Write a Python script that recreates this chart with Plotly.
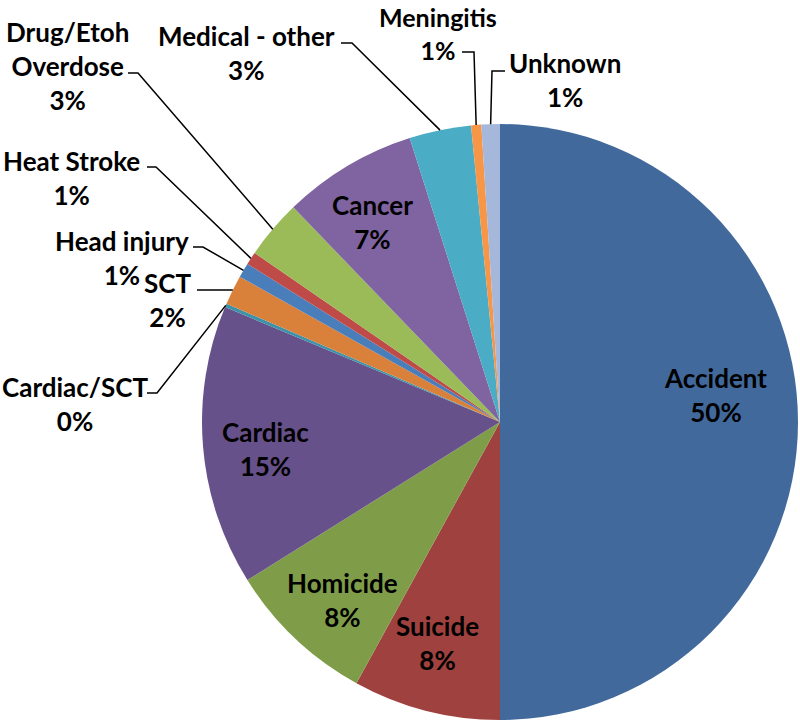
import math
import plotly.graph_objects as go

# ---- data (clockwise from 12 o'clock) ----
categories = ["Accident", "Suicide", "Homicide", "Cardiac", "Cardiac/SCT", "SCT",
              "Head injury", "Heat Stroke", "Drug/Etoh Overdose", "Cancer",
              "Medical - other", "Meningitis", "Unknown"]
values = [50.0, 8.0, 8.1, 15.2, 0.2, 1.6, 0.8, 0.7, 3.2, 7.3, 3.35, 0.55, 1.0]
display_names = ["Accident", "Suicide", "Homicide", "Cardiac", "Cardiac/SCT", "SCT",
                 "Head injury", "Heat Stroke", "Drug/Etoh<br>Overdose", "Cancer",
                 "Medical - other", "Meningitis", "Unknown"]
colors = ["#41699C", "#9F413E", "#7F9D48", "#67518A", "#3C93A9", "#D9803A",
          "#4A7EBB", "#BE4B48", "#9BBB59", "#8064A2", "#4BACC6", "#F79646", "#A5B7DA"]

# ---- layout constants (window pixels) ----
W, H = 800, 724
CX, CY, R = 500, 422, 298

# label anchor points (pixels) and anchors
label_pos = {
    "Accident": (715, 395), "Suicide": (437, 643), "Homicide": (342, 600),
    "Cardiac": (265, 449), "Cancer": (372, 222),
    "Drug/Etoh Overdose": (67, 66), "Medical - other": (246, 53),
    "Meningitis": (438, 0), "Unknown": (565, 80), "Heat Stroke": (71, 178),
    "Head injury": (122, 258), "SCT": (167, 300), "Cardiac/SCT": (0, 404),
}
label_anchor = {"Meningitis": ("center", "top"), "Cardiac/SCT": ("left", "middle")}
label_size = {"Meningitis": 25}
# leader line start and elbow (pixels) for outside labels
leader = {
    "Drug/Etoh Overdose": ((128, 73), (138, 73)),
    "Medical - other": ((341, 43), (352, 43)),
    "Meningitis": ((462, 52), (474, 52)),
    "Unknown": ((505, 71), (492, 71)),
    "Heat Stroke": ((147, 167), (156, 167)),
    "Head injury": ((193, 247), (203, 247)),
    "SCT": ((197, 290), (210, 290)),
    "Cardiac/SCT": ((147, 393), (157, 393)),
}


def px(x):
    return x / W


def py(y):
    return 1 - y / H


total = sum(values)
fig = go.Figure()
fig.add_trace(go.Pie(
    labels=categories, values=values, sort=False, direction="clockwise",
    rotation=0, textinfo="none", hoverinfo="label+percent",
    marker=dict(colors=colors, line=dict(width=0)),
    domain=dict(x=[px(CX - R), px(CX + R)], y=[py(CY + R), py(CY - R)]),
    showlegend=False,
))

annotations = []
shapes = []
cum = 0.0
for name, disp, v in zip(categories, display_names, values):
    mid = (cum + v / 2) / total * 2 * math.pi
    cum += v
    pct = int(v / total * 100 + 0.5)
    lx, ly = label_pos[name]
    xa, ya = label_anchor.get(name, ("center", "middle"))
    annotations.append(dict(
        x=px(lx), y=py(ly), xref="paper", yref="paper", xanchor=xa, yanchor=ya,
        text=f"{disp}<br>{pct}%", showarrow=False, align="center",
        font=dict(family="Lato", size=label_size.get(name, 26), color="#000000",
                  weight="bold"),
    ))
    if name in leader:
        (sx, sy), (ex, ey) = leader[name]
        tx = CX + R * math.sin(mid)
        ty = CY - R * math.cos(mid)
        path = f"M {px(sx)} {py(sy)} L {px(ex)} {py(ey)} L {px(tx)} {py(ty)}"
        shapes.append(dict(type="path", path=path, xref="paper", yref="paper",
                           line=dict(color="#000000", width=1.5)))

fig.update_layout(
    width=W, height=H, margin=dict(l=0, r=0, t=0, b=0),
    paper_bgcolor="white", plot_bgcolor="white",
    annotations=annotations, shapes=shapes,
)
fig.write_html(
    "out.html",
    config={"displayModeBar": False},
    post_script="document.body.style.margin='0';document.body.style.overflow='hidden';",
)
